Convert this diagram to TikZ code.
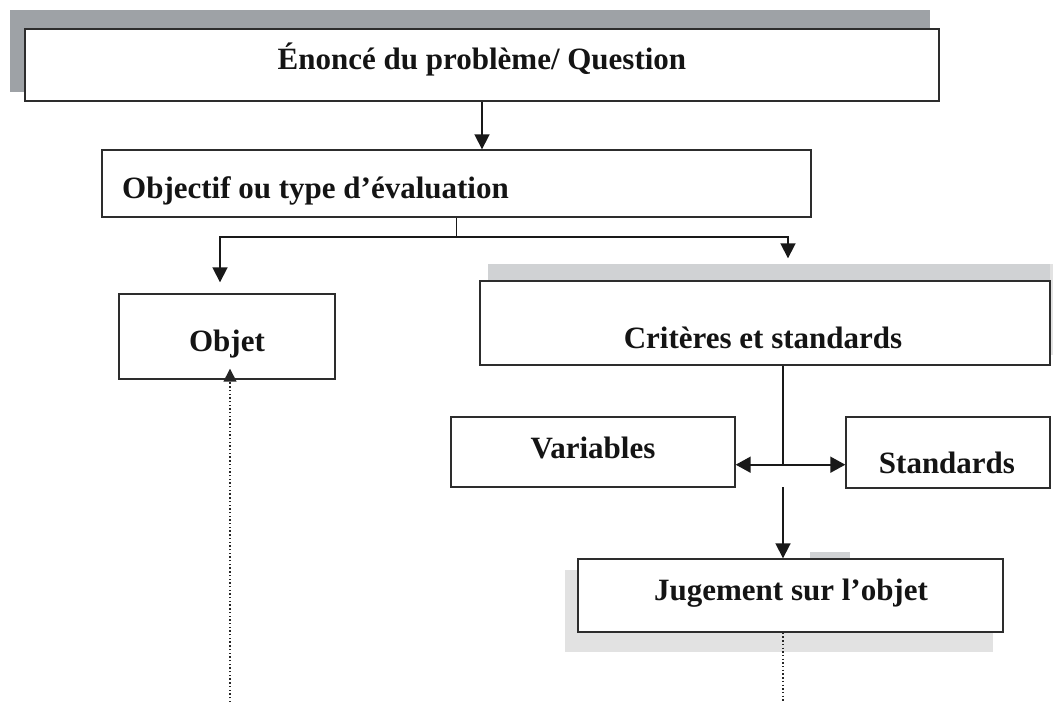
\documentclass[tikz,border=0pt]{standalone}
\usepackage{fontspec}
\setmainfont{Liberation Serif}
\usetikzlibrary{arrows.meta,calc}
\definecolor{shdark}{RGB}{158,162,166}
\definecolor{shlight}{RGB}{208,210,212}
\definecolor{shfaint}{RGB}{226,226,226}
\definecolor{edge}{RGB}{45,45,45}
\begin{document}
\begin{tikzpicture}[x=1pt,y=-1pt,
  box/.style={draw=edge, line width=1.4pt, fill=white, rectangle, inner sep=0pt},
  lbl/.style={font=\fontsize{31}{36}\selectfont\bfseries, inner sep=0pt, text=black!92},
  conn/.style={line width=1.8pt, draw=black!90},
  arr/.style={conn, -{Triangle[length=15pt,width=15pt]}},
  darr/.style={conn, {Triangle[length=15pt,width=16pt]}-{Triangle[length=15pt,width=16pt]}},
  dotline/.style={line width=1.5pt, draw=black!85, dash pattern=on 1.4pt off 2.3pt},
  dotarr/.style={dotline, -{Triangle[length=13pt,width=13pt]}}]
\useasboundingbox (0,0) rectangle (1053,702);
\fill[white] (0,0) rectangle (1053,702);
% shadows
\fill[shdark] (10,10) rectangle (930,29);
\fill[shdark] (10,10) rectangle (25,92);
\fill[shlight] (488,264) rectangle (1050,281);
\fill[shfaint] (1050,264) rectangle (1053,355);
\fill[shfaint] (565,570) rectangle (578,652);
\fill[shfaint] (565,632) rectangle (993,652);
\fill[shlight] (810,552) rectangle (850,559);
% boxes
\node[box, minimum width=914pt, minimum height=72pt] (b1) at (482,65) {};
\node[box, minimum width=709pt, minimum height=67pt] (b2) at (456.5,183.5) {};
\node[box, minimum width=216pt, minimum height=85pt] (objet) at (227,336.5) {};
\node[box, minimum width=570pt, minimum height=84pt] (crit) at (765,323) {};
\node[box, minimum width=284pt, minimum height=70pt] (var) at (593,452) {};
\node[box, minimum width=204pt, minimum height=71pt] (std) at (948,452.5) {};
\node[box, minimum width=425pt, minimum height=73pt] (jug) at (790.5,595.5) {};
% labels
\node[lbl, anchor=base] (t1) at (482,69) {Énoncé du problème/ Question};
\node[lbl, anchor=base west] (t2) at (122,198) {Objectif ou type d’évaluation};
\node[lbl, anchor=base] (t3) at (227,351) {Objet};
\node[lbl, anchor=base] (t4) at (763,348) {Critères et standards};
\node[lbl, anchor=base] (t5) at (593,458) {Variables};
\node[lbl, anchor=base] (t6) at (947,473) {Standards};
\node[lbl, anchor=base] (t7) at (791,600) {Jugement sur l’objet};
% coordinates
\coordinate (j1) at ($(b2.south)+(0,19)$);
\coordinate (oa) at ($(objet.north)+(-7,-11)$);
\coordinate (ca) at ($(crit.north)+(23,-22)$);
\coordinate (cs) at ($(crit.south)+(18,0)$);
\coordinate (cj) at ($(cs)+(0,99)$);
\coordinate (jt) at ($(jug.north)+(-7.5,0)$);
\coordinate (js) at ($(jt)+(0,-71)$);
\coordinate (d1) at (230,702);
\coordinate (d2) at (783,702);
% connectors
\draw[arr] (b1.south) -- (b1.south |- b2.north);
\draw[conn] (b2.south) -- (j1);
\draw[arr] (j1) -| (oa);
\draw[arr] (j1) -| (ca);
\draw[conn] (cs) -- (cj);
\draw[darr] (var.east |- cj) -- (std.west |- cj);
\draw[arr] (js) -- (jt);
\draw[dotarr, shorten >=-11pt] (d1) -- (d1 |- objet.south);
\draw[dotline] (jug.south -| d2) -- (d2);
\end{tikzpicture}
\end{document}
